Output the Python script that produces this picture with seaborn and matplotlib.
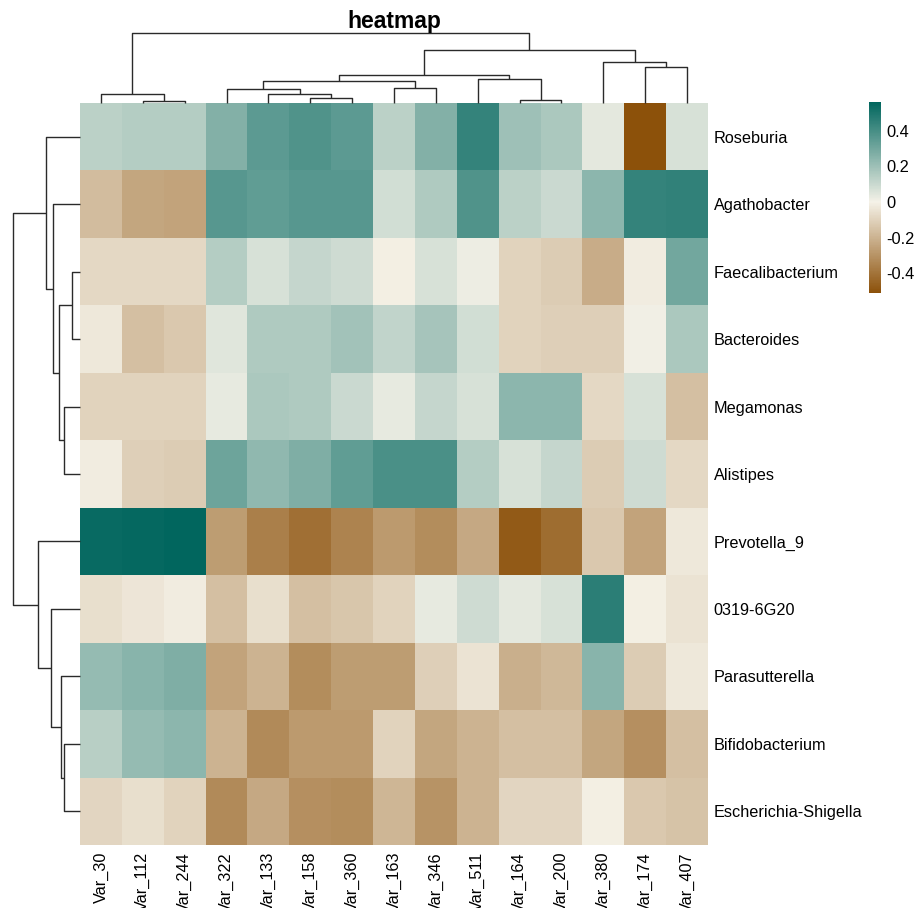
import numpy as np
import pandas as pd
import matplotlib
matplotlib.use("Agg")
import matplotlib.pyplot as plt
from matplotlib.colors import LinearSegmentedColormap
import seaborn as sns

plt.rcParams['font.family'] = ['Liberation Sans', 'DejaVu Sans']

# ---------------- data ----------------
columns = ["Var_30", "Var_112", "Var_244", "Var_322", "Var_133", "Var_158", "Var_360",
           "Var_163", "Var_346", "Var_511", "Var_164", "Var_200", "Var_380", "Var_174", "Var_407"]
rows = ["Roseburia", "Agathobacter", "Faecalibacterium", "Bacteroides", "Megamonas",
        "Alistipes", "Prevotella_9", "0319-6G20", "Parasutterella", "Bifidobacterium",
        "Escherichia-Shigella"]

roseburia        = [0.13, 0.15, 0.15, 0.26, 0.35, 0.38, 0.35, 0.13, 0.26, 0.44, 0.20, 0.17, 0.04, -0.51, 0.07]
agathobacter     = [-0.17, -0.24, -0.25, 0.36, 0.34, 0.36, 0.36, 0.08, 0.16, 0.38, 0.13, 0.10, 0.24, 0.44, 0.45]
faecalibacterium = [-0.08, -0.08, -0.08, 0.15, 0.07, 0.11, 0.09, -0.01, 0.07, 0.02, -0.10, -0.12, -0.22, -0.02, 0.30]
bacteroides      = [-0.03, -0.16, -0.13, 0.05, 0.16, 0.16, 0.19, 0.12, 0.18, 0.08, -0.10, -0.11, -0.11, 0.01, 0.17]
megamonas        = [-0.10, -0.10, -0.10, 0.03, 0.17, 0.16, 0.10, 0.03, 0.11, 0.07, 0.24, 0.24, -0.08, 0.07, -0.16]
alistipes        = [-0.02, -0.11, -0.12, 0.31, 0.23, 0.27, 0.34, 0.39, 0.39, 0.15, 0.07, 0.11, -0.12, 0.09, -0.08]
prevotella_9     = [0.54, 0.55, 0.56, -0.27, -0.36, -0.41, -0.35, -0.28, -0.32, -0.23, -0.48, -0.42, -0.13, -0.25, -0.03]
g0319_6g20       = [-0.06, -0.04, -0.02, -0.16, -0.06, -0.16, -0.14, -0.10, 0.03, 0.09, 0.04, 0.07, 0.46, -0.01, -0.05]
parasutterella   = [0.22, 0.25, 0.27, -0.25, -0.20, -0.32, -0.27, -0.27, -0.11, -0.05, -0.21, -0.18, 0.25, -0.12, -0.03]
bifidobacterium  = [0.14, 0.22, 0.24, -0.20, -0.33, -0.28, -0.28, -0.10, -0.24, -0.20, -0.16, -0.16, -0.24, -0.31, -0.16]
escherichia      = [-0.09, -0.06, -0.10, -0.33, -0.23, -0.31, -0.32, -0.19, -0.30, -0.20, -0.09, -0.09, -0.01, -0.13, -0.15]

# dendrogram merges: (left id, right id, height); new cluster ids start at n leaves
col_links = [(1, 2, 7), (0, 15, 25), (5, 6, 15), (4, 17, 25), (3, 18, 40), (7, 8, 42),
             (19, 20, 62), (10, 11, 10), (9, 22, 68), (21, 23, 80), (13, 14, 102),
             (12, 25, 118), (24, 26, 152), (16, 27, 200)]
row_links = [(2, 3, 24), (4, 5, 49), (11, 12, 62), (1, 13, 79), (0, 14, 100),
             (9, 10, 49), (8, 16, 57), (7, 17, 87), (6, 18, 125), (15, 19, 199)]

cbar_ticks = [-0.4, -0.2, 0, 0.2, 0.4]
cbar_labels = ["-0.4", "-0.2", "0", "0.2", "0.4"]
vmin, vmax = -0.51, 0.56

df = pd.DataFrame([roseburia, agathobacter, faecalibacterium, bacteroides, megamonas,
                   alistipes, prevotella_9, g0319_6g20, parasutterella, bifidobacterium,
                   escherichia], index=rows, columns=columns)

# ---------------- figure ----------------
W, H = 918, 908
fig = plt.figure(figsize=(W / 100, H / 100), dpi=100)
fig.patch.set_facecolor("white")


def fax(l, t, r, b):
    return fig.add_axes([l / W, 1 - b / H, (r - l) / W, (b - t) / H])


ax_hm = fax(80, 103, 708, 845)
ax_col = fax(80, 33, 708, 103)
ax_row = fax(13, 103, 80, 845)
cax = fax(869, 102, 881, 293)

mid = (0 - vmin) / (vmax - vmin)
cmap = LinearSegmentedColormap.from_list(
    "brtl", [(0.0, "#8c510a"), (mid, "#f5f2e8"), (1.0, "#01665e")])

sns.heatmap(df, ax=ax_hm, cmap=cmap, vmin=vmin, vmax=vmax, cbar_ax=cax,
            xticklabels=True, yticklabels=True, linewidths=0)

ax_hm.yaxis.tick_right()
ax_hm.tick_params(axis='y', length=0, pad=4, labelsize=11.7, labelrotation=0)
ax_hm.tick_params(axis='x', length=0, pad=5, labelsize=11.7, labelrotation=90)
for t in ax_hm.get_xticklabels():
    t.set_va('top')
    t.set_ha('center')
for t in ax_hm.get_yticklabels():
    t.set_ha('left')
ax_hm.set_xlabel("")
ax_hm.set_ylabel("")

cbar = ax_hm.collections[0].colorbar
cbar.set_ticks(cbar_ticks)
cbar.set_ticklabels(cbar_labels)
cbar.outline.set_visible(False)
cax.tick_params(length=0, pad=4, labelsize=11.8)


def draw_dendro(ax, links, n, orient):
    pos = {i: i + 0.5 for i in range(n)}
    hgt = {i: 0.0 for i in range(n)}
    for k, (a, b, h) in enumerate(links):
        pa, pb = pos[a], pos[b]
        xs = [pa, pa, pb, pb]
        ys = [hgt[a], h, h, hgt[b]]
        if orient == 'top':
            ax.plot(xs, ys, color='#2a2a2a', lw=1.0, clip_on=False, solid_capstyle='butt')
        else:
            ax.plot(ys, xs, color='#2a2a2a', lw=1.0, clip_on=False, solid_capstyle='butt')
        pos[n + k] = (pa + pb) / 2
        hgt[n + k] = h
    return max(h for _, _, h in links)


top = draw_dendro(ax_col, col_links, len(columns), 'top')
ax_col.set_xlim(0, len(columns))
ax_col.set_ylim(0, top)
ax_col.axis('off')

left = draw_dendro(ax_row, row_links, len(rows), 'left')
ax_row.set_ylim(len(rows), 0)
ax_row.set_xlim(left, 0)
ax_row.axis('off')

fig.text(394 / W, 1 - 28 / H, "heatmap", ha='center', va='baseline',
         fontsize=16.5, fontweight='bold')

fig.savefig("out.png", dpi=100)
